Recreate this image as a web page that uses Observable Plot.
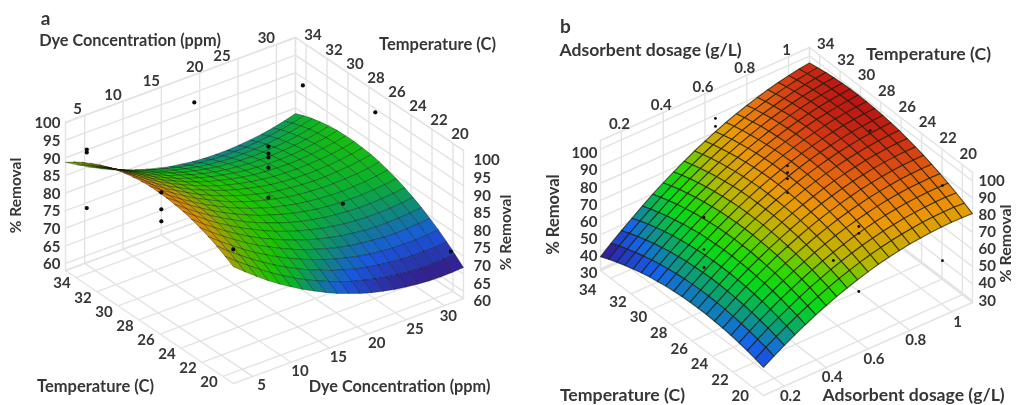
<!DOCTYPE html>
<html><head><meta charset="utf-8">
<script src="https://cdn.jsdelivr.net/npm/d3@7"></script>
<script src="https://cdn.jsdelivr.net/npm/@observablehq/plot@0.6"></script>
<style>html,body{margin:0;padding:0;background:#fff}#c{display:flex;width:1016px;height:405px;overflow:hidden}svg{display:block}</style>
</head><body><div id="c"></div>
<script>
// ---- Data ----
const dyeTicks=[5,10,15,20,25,30];
const doseTicks=[0.2,0.4,0.6,0.8,1];
const tempTicks=[20,22,24,26,28,30,32,34];
const removalTicksA=[60,65,70,75,80,85,90,95,100];
const removalTicksB=[30,40,50,60,70,80,90,100];

// Surface a: rows run T 19 -> 35, columns run dye 2.5 -> 32.5
const removalA=[
[91.1,88.5,86.0,83.6,81.4,79.4,77.5,75.8,74.2,72.7,71.5,70.3,69.3,68.5,67.8,67.3,66.9,66.6,66.5,66.6,66.8],
[92.5,89.9,87.5,85.2,83.0,81.0,79.1,77.4,75.9,74.5,73.2,72.1,71.2,70.4,69.7,69.2,68.8,68.6,68.6,68.7,68.9],
[93.8,91.2,88.8,86.5,84.4,82.4,80.6,78.9,77.4,76.1,74.8,73.8,72.8,72.1,71.5,71.0,70.7,70.5,70.5,70.6,70.9],
[94.9,92.3,90.0,87.7,85.6,83.7,81.9,80.3,78.8,77.5,76.3,75.2,74.4,73.6,73.0,72.6,72.3,72.2,72.2,72.4,72.7],
[95.8,93.3,91.0,88.8,86.7,84.8,83.1,81.5,80.0,78.7,77.6,76.6,75.7,75.0,74.5,74.1,73.8,73.7,73.8,74.0,74.3],
[96.6,94.1,91.8,89.6,87.6,85.7,84.0,82.5,81.1,79.8,78.7,77.7,76.9,76.2,75.7,75.3,75.1,75.1,75.2,75.4,75.8],
[97.2,94.8,92.5,90.3,88.4,86.5,84.9,83.3,81.9,80.7,79.6,78.7,77.9,77.3,76.8,76.5,76.3,76.3,76.4,76.7,77.1],
[97.6,95.2,93.0,90.9,89.0,87.2,85.5,84.0,82.7,81.5,80.4,79.5,78.8,78.2,77.8,77.5,77.3,77.3,77.5,77.8,78.2],
[97.9,95.6,93.4,91.3,89.4,87.6,86.0,84.6,83.2,82.1,81.1,80.2,79.5,78.9,78.5,78.3,78.2,78.2,78.4,78.7,79.2],
[98.0,95.7,93.5,91.5,89.6,87.9,86.3,84.9,83.6,82.5,81.5,80.7,80.0,79.5,79.1,78.9,78.8,78.9,79.1,79.5,80.0],
[98.0,95.7,93.6,91.6,89.7,88.1,86.5,85.1,83.9,82.8,81.9,81.1,80.4,79.9,79.6,79.4,79.4,79.5,79.7,80.1,80.7],
[97.8,95.5,93.4,91.5,89.7,88.0,86.5,85.2,84.0,82.9,82.0,81.2,80.6,80.2,79.9,79.7,79.7,79.9,80.2,80.6,81.2],
[97.4,95.2,93.1,91.2,89.5,87.8,86.4,85.1,83.9,82.9,82.0,81.3,80.7,80.3,80.0,79.9,79.9,80.1,80.4,80.9,81.5],
[96.9,94.7,92.7,90.8,89.1,87.5,86.1,84.8,83.6,82.6,81.8,81.1,80.6,80.2,80.0,79.9,80.0,80.2,80.5,81.0,81.7],
[96.2,94.1,92.1,90.2,88.5,87.0,85.6,84.3,83.2,82.3,81.5,80.8,80.3,80.0,79.8,79.7,79.8,80.1,80.5,81.0,81.7],
[95.4,93.3,91.3,89.5,87.8,86.3,84.9,83.7,82.7,81.7,81.0,80.4,79.9,79.6,79.4,79.4,79.5,79.8,80.3,80.8,81.6],
[94.4,92.3,90.4,88.6,86.9,85.5,84.1,83.0,81.9,81.0,80.3,79.7,79.3,79.0,78.9,78.9,79.1,79.4,79.9,80.5,81.3],
[93.2,91.1,89.3,87.5,85.9,84.5,83.2,82.0,81.0,80.2,79.5,78.9,78.6,78.3,78.2,78.3,78.5,78.8,79.3,80.0,80.8],
[91.9,89.8,88.0,86.3,84.7,83.3,82.1,80.9,80.0,79.2,78.5,78.0,77.6,77.4,77.4,77.5,77.7,78.1,78.6,79.3,80.2],
[90.4,88.4,86.6,84.9,83.4,82.0,80.8,79.7,78.8,78.0,77.4,76.9,76.6,76.4,76.4,76.5,76.8,77.2,77.8,78.5,79.4],
[88.7,86.8,85.0,83.3,81.8,80.5,79.3,78.3,77.4,76.6,76.1,75.6,75.3,75.2,75.2,75.4,75.7,76.1,76.7,77.5,78.4]];

// Surface b: rows run T 19 -> 35, columns run dose 0.1 -> 1.1
const removalB=[
[45.5,49.3,52.9,56.3,59.5,62.5,65.3,67.8,70.1,72.2,74.1,75.8,77.2,78.4,79.5,80.2,80.8,81.2,81.3,81.2,81.0],
[46.8,50.7,54.3,57.8,61.1,64.1,66.9,69.5,71.9,74.0,76.0,77.7,79.2,80.5,81.6,82.4,83.1,83.5,83.7,83.7,83.4],
[47.9,51.8,55.6,59.1,62.4,65.5,68.4,71.0,73.5,75.7,77.7,79.5,81.0,82.4,83.5,84.4,85.1,85.6,85.9,85.9,85.7],
[48.8,52.8,56.6,60.2,63.6,66.7,69.7,72.4,74.9,77.2,79.2,81.1,82.7,84.1,85.3,86.2,87.0,87.5,87.8,87.9,87.8],
[49.6,53.6,57.5,61.2,64.6,67.8,70.8,73.5,76.1,78.4,80.6,82.5,84.1,85.6,86.9,87.9,88.7,89.3,89.6,89.8,89.7],
[50.1,54.3,58.2,61.9,65.4,68.7,71.7,74.5,77.1,79.5,81.7,83.7,85.4,86.9,88.2,89.3,90.2,90.9,91.3,91.5,91.5],
[50.5,54.7,58.7,62.5,66.0,69.3,72.5,75.3,78.0,80.5,82.7,84.7,86.5,88.1,89.5,90.6,91.5,92.2,92.7,93.0,93.1],
[50.8,55.0,59.0,62.9,66.5,69.8,73.0,76.0,78.7,81.2,83.5,85.6,87.4,89.1,90.5,91.7,92.7,93.5,94.0,94.3,94.4],
[50.8,55.1,59.2,63.1,66.7,70.2,73.4,76.4,79.2,81.8,84.1,86.2,88.2,89.9,91.3,92.6,93.7,94.5,95.1,95.5,95.6],
[50.6,55.0,59.2,63.1,66.8,70.3,73.6,76.7,79.5,82.1,84.5,86.7,88.7,90.5,92.0,93.3,94.4,95.3,96.0,96.4,96.7],
[50.3,54.7,58.9,62.9,66.7,70.3,73.6,76.7,79.6,82.3,84.8,87.1,89.1,90.9,92.5,93.9,95.0,96.0,96.7,97.2,97.5],
[49.8,54.3,58.5,62.6,66.4,70.1,73.5,76.6,79.6,82.3,84.9,87.2,89.3,91.2,92.8,94.2,95.5,96.5,97.2,97.8,98.2],
[49.1,53.6,58.0,62.1,66.0,69.7,73.1,76.4,79.4,82.2,84.8,87.1,89.3,91.2,92.9,94.4,95.7,96.8,97.6,98.2,98.6],
[48.2,52.8,57.2,61.4,65.4,69.1,72.6,75.9,79.0,81.8,84.5,86.9,89.1,91.1,92.9,94.4,95.8,96.9,97.8,98.5,98.9],
[47.2,51.8,56.3,60.5,64.5,68.3,71.9,75.2,78.4,81.3,84.0,86.5,88.8,90.8,92.7,94.3,95.7,96.8,97.8,98.5,99.1],
[45.9,50.7,55.2,59.5,63.5,67.4,71.0,74.4,77.6,80.6,83.4,85.9,88.2,90.3,92.2,93.9,95.4,96.6,97.6,98.4,99.0],
[44.5,49.3,53.9,58.2,62.3,66.2,70.0,73.4,76.7,79.7,82.5,85.1,87.5,89.7,91.6,93.4,94.9,96.2,97.2,98.1,98.7],
[42.9,47.8,52.4,56.8,61.0,65.0,68.7,72.2,75.5,78.7,81.5,84.2,86.6,88.9,90.9,92.6,94.2,95.6,96.7,97.6,98.3],
[41.2,46.1,50.7,55.2,59.4,63.5,67.3,70.9,74.2,77.4,80.3,83.1,85.6,87.8,89.9,91.7,93.4,94.8,96.0,96.9,97.7],
[39.2,44.2,48.9,53.4,57.7,61.8,65.7,69.3,72.7,76.0,79.0,81.7,84.3,86.6,88.8,90.7,92.4,93.8,95.1,96.1,96.9],
[37.1,42.1,46.9,51.4,55.8,60.0,63.9,67.6,71.1,74.4,77.4,80.2,82.9,85.3,87.4,89.4,91.2,92.7,94.0,95.1,96.0]];

// Measured points
const dotDyeA=[5,5,5,15,15,15,19.3,32.5,32.5,25,25,25,25,25,25,10,32.5];
const dotTempA=[34.8,34.8,34.8,35,35,35,35,34.3,27.4,32.1,32.1,32.1,32.1,32.1,25,24.5,20.2];
const dotRemovalA=[90.7,89.9,74.1,70.1,65.3,61.9,92.2,87.8,94,80.9,78.9,77.8,74.9,66.4,78.9,79,68.9];
const dotDoseB=[0.65,0.65,0.6,0.6,0.6,0.6,1,1,1,0.6,0.6,0.6,0.6,0.4,0.4,0.4];
const dotTempB=[35,35,26.9,26.9,26.9,26.9,27,19.9,19.9,19.9,19.9,19.9,22.4,31,31,31];
const dotRemovalB=[88,83.3,100,96,92.4,84.3,98.5,98.7,54.8,96.5,92.5,58.5,65.2,62,43.2,32.7];

// ---- View settings ----
const FONT="Lato, 'Open Sans', sans-serif", INK="#363636", GRID="#e3e3e3";
const SPLIT=520;
const panelA={
  xDomain:[0,SPLIT],
  uRange:[2.5,32.5],zRange:[58,100],
  left:[65,270],back:[295,185],front:[233,383],height:148,
  uTicks:dyeTicks,zTicks:removalTicksA,grid:removalA,
  dots:{u:dotDyeA,t:dotTempA,z:dotRemovalA,r:2.1},
  color:{domain:[65,68.5,72.5,76,79,83,88,93,97],range:["#3c0a70","#2e2a9c","#1858e0","#10887c","#0cb030","#1cc400","#5cb400","#c09808","#e08010"]},
  mesh:{stroke:"#000",opacity:0.34,width:0.9},
  tickOff:{zL:[-5,1],zR:[10,10],uTop:[-10,-6],tTop:[7,-9],tBot:[-14,6],uBot:[9,9]},
  nudge:{uTop:{5:[3,0],20:[5,0],25:[-6,3]},tBot:{},uBot:{30:[-5,2]}},
  titles:[
    ["a",45,18,-0,19],
    ["Dye Concentration (ppm)",129.5,40,0,16.3],
    ["Temperature (C)",437,44,0,16.5],
    ["Temperature (C)",95,386,0,16.5],
    ["Dye Concentration (ppm)",399,386,0,16.3],
    ["% Removal",16,195,-90,15.5],
    ["% Removal",506,232,-90,15.5]]
};
const panelB={
  xDomain:[SPLIT,1016],
  uRange:[0.1,1.1],zRange:[29,105],
  left:[600,270],back:[809,177],front:[763,395],height:130,
  uTicks:doseTicks,zTicks:removalTicksB,grid:removalB,
  dots:{u:dotDoseB,t:dotTempB,z:dotRemovalB,r:1.4},
  color:{domain:[37,42,50,56,64,70,76,84,90,95,99],range:["#3a0a78","#2a2ab4","#1464ec","#0c9a80","#04d81c","#30d800","#b4b800","#ec9808","#e66c10","#d23414","#b81414"]},
  mesh:{stroke:"#1c1c08",opacity:0.72,width:1.1},
  tickOff:{zL:[-3,4.5],zR:[6,0],uTop:[-2,-7],tTop:[6,-11],tBot:[-13,8],uBot:[6,10]},
  nudge:{uTop:{},tBot:{34:[-10,4]},uBot:{}},
  titles:[
    ["b",565,26,0,19],
    ["Adsorbent dosage (g/L)",650,50,0,17.6],
    ["Temperature (C)",928,54,0,17.7],
    ["Temperature (C)",622,395,0,17.7],
    ["Adsorbent dosage (g/L)",913,395,0,17.6],
    ["% Removal",553,214,-90,16.5],
    ["% Removal",1005,243,-90,16]]
};
const T_MIN=19,T_MAX=35;

function panel(p){
  const [uMin,uMax]=p.uRange,[zMin,zMax]=p.zRange;
  const px=(u,t)=>p.left[0]+(u-uMin)/(uMax-uMin)*(p.back[0]-p.left[0])+(T_MAX-t)/(T_MAX-T_MIN)*(p.front[0]-p.left[0]);
  const py=(u,t,z)=>p.left[1]+(u-uMin)/(uMax-uMin)*(p.back[1]-p.left[1])+(T_MAX-t)/(T_MAX-T_MIN)*(p.front[1]-p.left[1])-(z-zMin)/(zMax-zMin)*p.height;
  const pt=(key,u,t,z)=>({key,x:px(u,t),y:py(u,t,z)});

  // box: two walls and the floor
  const grid=[];
  const seg=(k,a,b)=>grid.push(pt(k,...a),pt(k,...b));
  const us=[uMin,...p.uTicks,uMax], ts=[T_MIN,...tempTicks,T_MAX], zs=[zMin,...p.zTicks,zMax];
  us.forEach((u,i)=>{seg("wu"+i,[u,T_MAX,zMin],[u,T_MAX,zMax]);seg("fu"+i,[u,T_MIN,zMin],[u,T_MAX,zMin]);});
  ts.forEach((t,i)=>{seg("wt"+i,[uMax,t,zMin],[uMax,t,zMax]);seg("ft"+i,[uMin,t,zMin],[uMax,t,zMin]);});
  zs.forEach((z,i)=>{seg("hl"+i,[uMin,T_MAX,z],[uMax,T_MAX,z]);seg("hr"+i,[uMax,T_MAX,z],[uMax,T_MIN,z]);});

  // surface cells, far to near
  const nT=p.grid.length, nU=p.grid[0].length;
  const U=i=>uMin+(uMax-uMin)*i/(nU-1), TT=j=>T_MIN+(T_MAX-T_MIN)*j/(nT-1);
  const cells=[];
  for(let i=nU-2;i>=0;i--)for(let j=nT-2;j>=0;j--){
    const g=p.grid, v=(g[j][i]+g[j][i+1]+g[j+1][i]+g[j+1][i+1])/4, key=i+"-"+j;
    [[i,j],[i+1,j],[i+1,j+1],[i,j+1],[i,j]].forEach(([a,b])=>cells.push({...pt(key,U(a),TT(b),g[b][a]),v}));
  }

  const dots=p.dots.u.map((u,i)=>pt(i,u,p.dots.t[i],p.dots.z[i]));

  const labelMark=(rows,off,anchor)=>Plot.text(rows,{x:"x",y:"y",text:"label",dx:off[0],dy:off[1],textAnchor:anchor,fontSize:15,fontWeight:700,fontFamily:FONT,fill:INK});
  const lab=(v,u,t,z,n)=>{const m=(n&&n[v])||[0,0];return {label:String(v),x:px(u,t)+m[0],y:py(u,t,z)+m[1]};};

  const marks=[
    Plot.line(grid,{x:"x",y:"y",z:"key",stroke:GRID,strokeWidth:1.4}),
    Plot.line(cells,{x:"x",y:"y",z:"key",fill:"v",stroke:p.mesh.stroke,strokeOpacity:p.mesh.opacity,strokeWidth:p.mesh.width,strokeLinejoin:"round"}),
    Plot.dot(dots,{x:"x",y:"y",r:p.dots.r,fill:"#0a0a0a",stroke:"none"}),
    labelMark(p.zTicks.map(z=>lab(z,uMin,T_MAX,z)),p.tickOff.zL,"end"),
    labelMark(p.zTicks.map(z=>lab(z,uMax,T_MIN,z)),p.tickOff.zR,"start"),
    labelMark(p.uTicks.map(u=>lab(u,u,T_MAX,zMax,p.nudge.uTop)),p.tickOff.uTop,"middle"),
    labelMark(p.uTicks.map(u=>lab(u,u,T_MIN,zMin,p.nudge.uBot)),p.tickOff.uBot,"middle"),
    labelMark(tempTicks.map(t=>lab(t,uMax,t,zMax)),p.tickOff.tTop,"middle"),
    labelMark(tempTicks.map(t=>lab(t,uMin,t,zMin,p.nudge.tBot)),p.tickOff.tBot,"middle"),
    ...p.titles.map(([text,x,y,rotate,size])=>Plot.text([text],{x:()=>x,y:()=>y,text:d=>d,textAnchor:"middle",rotate,fontSize:size,fontWeight:700,fontFamily:FONT,fill:INK}))
  ];
  const w=p.xDomain[1]-p.xDomain[0];
  return Plot.plot({
    width:w,height:405,margin:0,
    x:{axis:null,domain:p.xDomain,range:[0,w]},
    y:{axis:null,domain:[0,405],range:[0,405]},
    color:{type:"linear",domain:p.color.domain,range:p.color.range,interpolate:"rgb",clamp:true},
    style:{background:"#fff",filter:"blur(0.55px)",overflow:"hidden"},
    marks
  });
}
const host=document.getElementById("c");
host.append(panel(panelA),panel(panelB));
</script></body></html>
